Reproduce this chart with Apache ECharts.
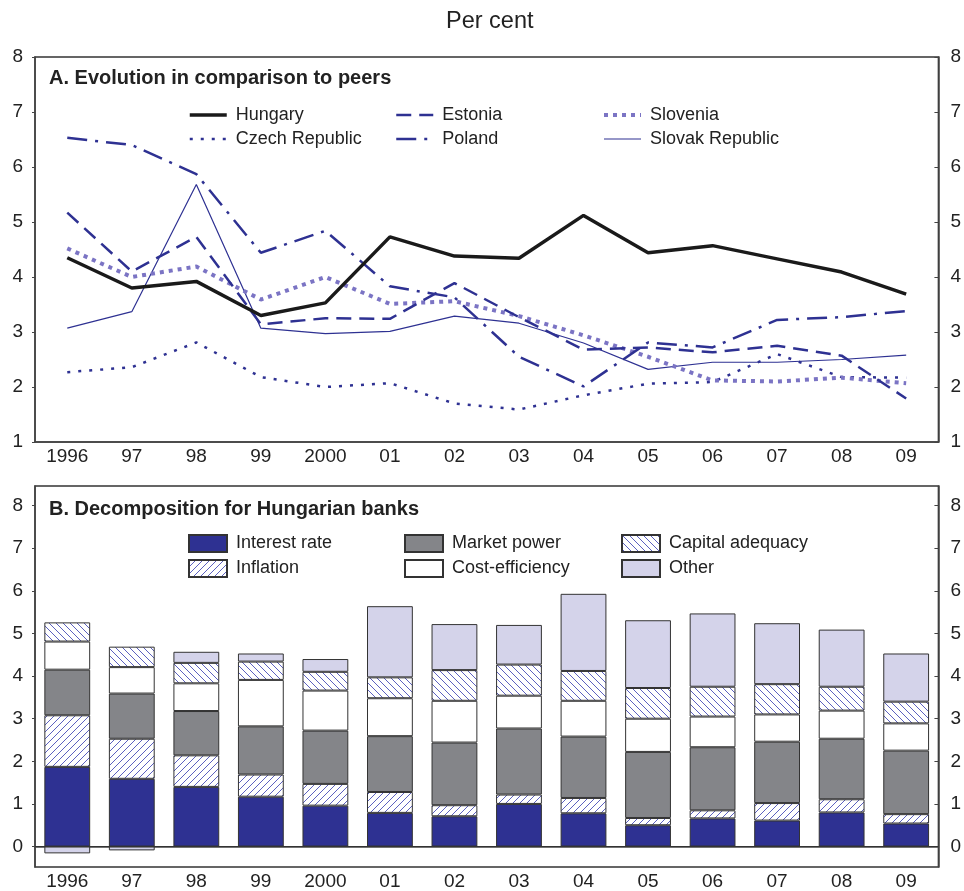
<!DOCTYPE html>
<html>
<head>
<meta charset="utf-8">
<script src="https://cdn.jsdelivr.net/npm/echarts@6/dist/echarts.min.js"></script>
<style>
  html, body { margin: 0; background: #fff; }
  #chart { width: 964px; height: 891px; }
</style>
</head>
<body>
<div id="chart"></div>
<script>
const years = ["1996", "97", "98", "99", "2000", "01", "02", "03", "04", "05", "06", "07", "08", "09"];

// Panel A, per cent
const hungary  = [4.35, 3.80, 3.92, 3.30, 3.53, 4.73, 4.38, 4.34, 5.12, 4.44, 4.57, 4.33, 4.09, 3.69];
const estonia  = [5.17, 4.10, 4.73, 3.14, 3.25, 3.24, 3.89, 3.27, 2.68, 2.72, 2.63, 2.75, 2.57, 1.79];
const slovenia = [4.52, 4.00, 4.19, 3.59, 4.00, 3.51, 3.56, 3.29, 2.94, 2.55, 2.12, 2.10, 2.17, 2.07];
const czech    = [2.27, 2.36, 2.81, 2.18, 2.00, 2.07, 1.70, 1.59, 1.85, 2.06, 2.09, 2.60, 2.18, 2.17];
const poland   = [6.53, 6.40, 5.87, 4.44, 4.84, 3.83, 3.63, 2.55, 2.01, 2.81, 2.72, 3.22, 3.27, 3.38];
const slovak   = [3.07, 3.37, 5.68, 3.07, 2.97, 3.01, 3.29, 3.16, 2.80, 2.32, 2.45, 2.45, 2.50, 2.58];

// Panel B, components of the margin
const interestRate = [1.87, 1.59, 1.40, 1.17, 0.96, 0.79, 0.71, 1.00, 0.78, 0.50, 0.66, 0.61, 0.80, 0.54];
const inflation    = [1.21, 0.94, 0.74, 0.52, 0.51, 0.49, 0.26, 0.22, 0.36, 0.17, 0.19, 0.41, 0.31, 0.22];
const marketPower  = [1.07, 1.06, 1.04, 1.13, 1.25, 1.31, 1.47, 1.55, 1.44, 1.55, 1.48, 1.44, 1.42, 1.49];
const costEff      = [0.66, 0.62, 0.65, 1.09, 0.94, 0.89, 0.98, 0.77, 0.84, 0.78, 0.72, 0.64, 0.66, 0.64];
const capAdequacy  = [0.45, 0.48, 0.48, 0.43, 0.44, 0.49, 0.72, 0.73, 0.70, 0.72, 0.70, 0.71, 0.56, 0.51];
const other        = [-0.16, -0.09, 0.26, 0.19, 0.30, 1.67, 1.08, 0.93, 1.81, 1.59, 1.72, 1.43, 1.34, 1.13];

const topTicks = [1, 2, 3, 4, 5, 6, 7, 8];
const bottomTicks = [0, 1, 2, 3, 4, 5, 6, 7, 8];

const FONT = "Liberation Sans, Arial, Helvetica, sans-serif";
const NAVY = "#2e3192";
const AXIS = "#444";

function hatch(dir) {
  const c = document.createElement("canvas");
  c.width = 7; c.height = 7;
  const g = c.getContext("2d");
  g.fillStyle = "#fff";
  g.fillRect(0, 0, 7, 7);
  g.strokeStyle = "#4a4fb8";
  g.lineWidth = 0.9;
  g.beginPath();
  if (dir > 0) {
    g.moveTo(-1, 8); g.lineTo(8, -1);
    g.moveTo(-1, 1); g.lineTo(1, -1);
    g.moveTo(6, 8); g.lineTo(8, 6);
  } else {
    g.moveTo(-1, -1); g.lineTo(8, 8);
    g.moveTo(-1, 6); g.lineTo(1, 8);
    g.moveTo(6, -1); g.lineTo(8, 1);
  }
  g.stroke();
  return c;
}

const chart = echarts.init(document.getElementById("chart"), null, { renderer: "canvas" });

const tickLabel = { fontSize: 19, color: "#222", fontFamily: FONT };

function xAxis(gi) {
  return {
    type: "category", gridIndex: gi, data: years, boundaryGap: true,
    axisLine: { lineStyle: { color: AXIS, width: 1.5 } },
    axisTick: { inside: true, length: 5, lineStyle: { color: AXIS } },
    axisLabel: Object.assign({ margin: 5, interval: 0 }, tickLabel)
  };
}
function yAxis(gi, pos, min, max, ticks) {
  const right = pos === "right";
  return {
    type: "value", gridIndex: gi, position: pos, min: min, max: max,
    axisLine: { show: true, lineStyle: { color: AXIS, width: 1.5 } },
    axisTick: { show: true, inside: right, length: right ? 4 : 3, customValues: ticks, lineStyle: { color: AXIS } },
    axisLabel: Object.assign({ margin: 12, customValues: ticks }, tickLabel),
    splitLine: { show: false }
  };
}

// line looks, shared by the series and their legend entries
const looks = {
  "Hungary":         { color: "#1a1a1a", width: 3.5, type: "solid" },
  "Estonia":         { color: NAVY, width: 2.5, type: [15, 8] },
  "Slovenia":        { color: "#7b74c4", width: 4, type: [4, 5] },
  "Czech Republic":  { color: NAVY, width: 2.5, type: [3, 8] },
  "Poland":          { color: NAVY, width: 2.5, type: [20, 8, 3, 8] },
  "Slovak Republic": { color: NAVY, width: 1.2, type: "solid" }
};

function line(name, data, z) {
  const l = looks[name];
  return {
    name: name, type: "line", xAxisIndex: 0, yAxisIndex: 0, data: data,
    symbol: "none", z: z || 2,
    lineStyle: { color: l.color, width: l.width, type: l.type },
    itemStyle: { color: l.color }
  };
}
function bar(name, data, color) {
  return {
    name: name, type: "bar", stack: "b", xAxisIndex: 1, yAxisIndex: 2, data: data,
    barCategoryGap: "29%",
    itemStyle: { color: color, borderColor: "#333", borderWidth: 1 }
  };
}

const legendText = { fontSize: 18, color: "#222", fontFamily: FONT, padding: [0, 0, 0, 4] };
function legendA(left, names) {
  return {
    orient: "vertical", left: left, top: 101, itemWidth: 37, itemHeight: 18, itemGap: 6,
    // hide the marker the line legend icon adds, keep the dashed line
    itemStyle: { color: "rgba(0,0,0,0)", borderColor: "rgba(0,0,0,0)", borderWidth: 0 },
    textStyle: Object.assign({ lineHeight: 18 }, legendText),
    data: names.map(n => ({
      name: n,
      lineStyle: { color: looks[n].color, width: looks[n].width, type: looks[n].type }
    })),
    selectedMode: false
  };
}
function legendB(left, names) {
  return {
    orient: "vertical", left: left, top: 529, itemWidth: 38, itemHeight: 17, itemGap: 6, icon: "rect",
    textStyle: Object.assign({ lineHeight: 17 }, legendText), data: names, selectedMode: false
  };
}

const option = {
  backgroundColor: "#fff",
  animation: false,
  title: [
    { text: "Per cent", left: 446, top: 10, padding: 0,
      textStyle: { fontSize: 23.5, fontWeight: "normal", color: "#222", fontFamily: FONT } },
    { text: "A. Evolution in comparison to peers", left: 49, top: 68, padding: 0,
      textStyle: { fontSize: 20, fontWeight: "bold", color: "#222", fontFamily: FONT } },
    { text: "B. Decomposition for Hungarian banks", left: 49, top: 499, padding: 0,
      textStyle: { fontSize: 20, fontWeight: "bold", color: "#222", fontFamily: FONT } }
  ],
  legend: [
    legendA(183, ["Hungary", "Czech Republic"]),
    legendA(390, ["Estonia", "Poland"]),
    legendA(597, ["Slovenia", "Slovak Republic"]),
    legendB(183, ["Interest rate", "Inflation"]),
    legendB(399, ["Market power", "Cost-efficiency"]),
    legendB(616, ["Capital adequacy", "Other"])
  ],
  grid: [
    { left: 35, right: 21, top: 57, height: 385, show: true, borderColor: "#333", borderWidth: 1.5 },
    { left: 35, right: 21, top: 486, height: 383, show: true, borderColor: "#333", borderWidth: 1.5 }
  ],
  xAxis: [xAxis(0), xAxis(1)],
  yAxis: [
    yAxis(0, "left", 1, 8, topTicks),
    yAxis(0, "right", 1, 8, topTicks),
    yAxis(1, "left", -0.48, 8.46, bottomTicks),
    yAxis(1, "right", -0.48, 8.46, bottomTicks)
  ],
  series: [
    line("Slovak Republic", slovak),
    line("Czech Republic", czech),
    line("Slovenia", slovenia),
    line("Estonia", estonia),
    line("Poland", poland),
    line("Hungary", hungary, 3),
    Object.assign(bar("Interest rate", interestRate, NAVY), {
      markLine: { silent: true, symbol: "none", label: { show: false },
        lineStyle: { color: "#333", width: 1.2, type: "solid" }, data: [{ yAxis: 0 }] }
    }),
    bar("Inflation", inflation, { image: hatch(1), repeat: "repeat" }),
    bar("Market power", marketPower, "#848589"),
    bar("Cost-efficiency", costEff, "#ffffff"),
    bar("Capital adequacy", capAdequacy, { image: hatch(-1), repeat: "repeat" }),
    bar("Other", other, "#d4d3ea")
  ]
};

chart.setOption(option);
</script>
</body>
</html>
